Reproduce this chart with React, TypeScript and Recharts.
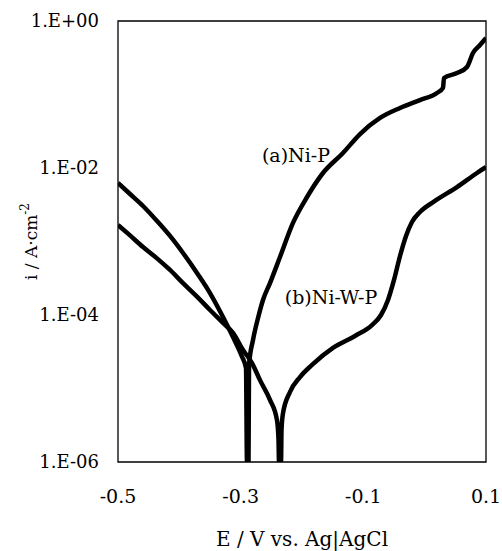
import { LineChart, Line, XAxis, YAxis, ReferenceArea, ReferenceDot, Label } from 'recharts';

// potential (V vs Ag|AgCl) and current density (A/cm2)
const niP_E = [
  -0.5, -0.4804, -0.4592, -0.4364, -0.4152, -0.394, -0.3712, -0.35, -0.3288, -0.3125, -0.2978, -0.2913,
  -0.2897, -0.2872, -0.2864, -0.2799, -0.2717, -0.2636, -0.2522, -0.2359, -0.2147, -0.1918, -0.1658,
  -0.1332, -0.1054, -0.0728, -0.0402, -0.0076, 0.0201, 0.0299, 0.0315, 0.0527, 0.069, 0.0788, 0.0902, 0.1,
];
const niP_i = [
  6.25e-3, 4.43e-3, 3.04e-3, 1.9e-3, 1.19e-3, 6.98e-4, 3.73e-4, 1.99e-4, 9.4e-5, 5.0e-5, 2.7e-5, 1.9e-5,
  1e-6, 1e-6, 2.09e-5, 4.57e-5, 9.1e-5, 1.6e-4, 2.72e-4, 6.15e-4, 1.79e-3, 4.03e-3, 8.55e-3,
  1.6e-2, 2.9e-2, 4.8e-2, 6.55e-2, 8.4e-2, 0.105, 0.123, 0.168, 0.196, 0.237, 0.367, 0.471, 0.587,
];

const niWP_E = [
  -0.5, -0.4804, -0.4592, -0.4364, -0.4152, -0.394, -0.3712, -0.35, -0.3288, -0.3125, -0.2962, -0.2815,
  -0.2685, -0.2522, -0.2408, -0.2383, -0.2375, -0.2342, -0.2334, -0.231, -0.2196, -0.2033, -0.1837,
  -0.1495, -0.1136, -0.0859, -0.0712, -0.0598, -0.05, -0.0402, -0.0304, -0.0207, -0.0076, 0.0168,
  0.0527, 0.0853, 0.1,
];
const niWP_i = [
  1.68e-3, 1.21e-3, 8.4e-4, 5.9e-4, 4.1e-4, 2.72e-4, 1.78e-4, 1.17e-4, 7.8e-5, 5.7e-5, 3.34e-5, 2.22e-5,
  1.3e-5, 7.0e-6, 3.7e-6, 2.0e-6, 1e-6, 1e-6, 2.72e-6, 4.6e-6, 8.96e-6, 1.43e-5, 2.09e-5,
  3.56e-5, 5.18e-5, 7.3e-5, 1.0e-4, 1.6e-4, 3.0e-4, 6.35e-4, 1.19e-3, 1.84e-3, 2.52e-3, 3.56e-3,
  5.5e-3, 8.55e-3, 1.03e-2,
];

const xTicks = [-0.5, -0.3, -0.1, 0.1];
const xTickLabels = ['-0.5', '-0.3', '-0.1', '0.1'];
const yTicks = [1e-6, 1e-4, 1e-2, 1];
const yTickLabels = ['1.E-06', '1.E-04', '1.E-02', '1.E+00'];

const curveNames = ['(a)Ni-P', '(b)Ni-W-P'];
const nameE = [-0.2098, -0.1527];
const nameI = [0.01503, 1.76e-4];

const niP = niP_E.map((E, k) => ({ E, i: niP_i[k] }));
const niWP = niWP_E.map((E, k) => ({ E, i: niWP_i[k] }));

const fmtX = (v: number) => {
  const k = xTicks.findIndex((t) => Math.abs(t - v) < 1e-6);
  return k >= 0 ? xTickLabels[k] : String(v);
};
const fmtY = (v: number) => {
  const k = yTicks.findIndex((t) => Math.abs(Math.log10(t) - Math.log10(v)) < 1e-6);
  return k >= 0 ? yTickLabels[k] : String(v);
};

const XTitle = (props: any) => {
  const vb = props.viewBox || { x: 118, y: 462, width: 368, height: 89 };
  return (
    <text x={vb.x + vb.width / 2} y={vb.y + 84} textAnchor="middle" fontSize={20} fill="#000">
      E / V vs. Ag|AgCl
    </text>
  );
};

const YTitle = (props: any) => {
  const vb = props.viewBox || { x: 0, y: 21, width: 118, height: 441 };
  const cx = vb.x + 37;
  const cy = vb.y + vb.height / 2;
  return (
    <text x={cx} y={cy} transform={`rotate(-90, ${cx}, ${cy})`} textAnchor="middle" fontSize={17} fill="#000">
      i / A·cm
      <tspan dy={-8} fontSize={12}>
        -2
      </tspan>
    </text>
  );
};

export default function App() {
  return (
    <div style={{ position: 'absolute', left: 0, top: 0, fontFamily: '"DejaVu Serif", serif' }}>
      <LineChart width={502} height={551} margin={{ top: 21, right: 16, bottom: 0, left: 0 }}>
        <XAxis
          dataKey="E"
          type="number"
          domain={[-0.5, 0.1]}
          ticks={xTicks}
          tickFormatter={fmtX}
          allowDataOverflow
          axisLine={false}
          tickLine={false}
          tickMargin={22}
          height={89}
          tick={{ fontSize: 19, fill: '#000' }}
        >
          <Label content={XTitle} />
        </XAxis>
        <YAxis
          scale="log"
          type="number"
          domain={[1e-6, 1]}
          ticks={yTicks}
          tickFormatter={fmtY}
          allowDataOverflow
          axisLine={false}
          tickLine={false}
          tickMargin={13}
          width={118}
          tick={{ fontSize: 18, fill: '#000' }}
        >
          <Label content={YTitle} />
        </YAxis>
        <ReferenceArea
          x1={-0.5}
          x2={0.1}
          y1={1e-6}
          y2={1}
          fill="none"
          stroke="#000"
          strokeWidth={1.3}
          ifOverflow="visible"
        />
        <Line
          data={niP}
          dataKey="i"
          type="monotone"
          stroke="#000"
          strokeWidth={4.5}
          strokeLinejoin="round"
          dot={false}
          isAnimationActive={false}
        />
        <Line
          data={niWP}
          dataKey="i"
          type="monotone"
          stroke="#000"
          strokeWidth={4.5}
          strokeLinejoin="round"
          dot={false}
          isAnimationActive={false}
        />
        {curveNames.map((name, k) => (
          <ReferenceDot
            key={name}
            x={nameE[k]}
            y={nameI[k]}
            r={0}
            fill="none"
            stroke="none"
            label={{ value: name, position: 'center', fontSize: 19, fill: '#000' }}
          />
        ))}
      </LineChart>
    </div>
  );
}
